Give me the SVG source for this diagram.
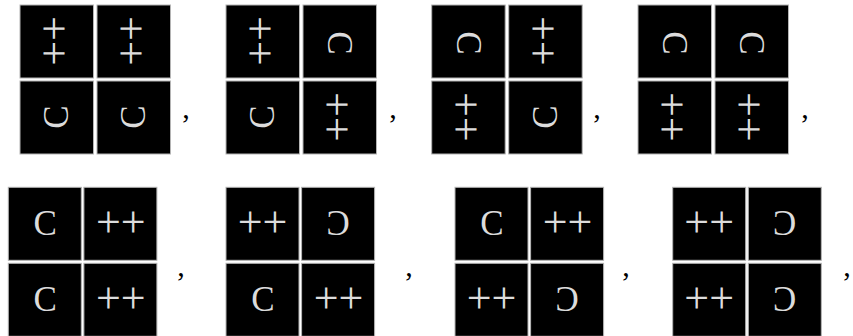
<svg xmlns="http://www.w3.org/2000/svg" width="853" height="336" viewBox="0 0 853 336">
<defs>
<style>
.sq{fill:#000;stroke:#b4b4b4;stroke-width:1}
.c{font-family:"Liberation Serif","DejaVu Serif",serif;font-size:35px;fill:#dcdcdc;text-anchor:middle}
.p{font-family:"Liberation Serif","DejaVu Serif",serif;font-size:44px;fill:#dcdcdc;text-anchor:middle}
.cm{font-family:"Liberation Serif","DejaVu Serif",serif;font-size:30px;fill:#000;text-anchor:middle}
</style>
</defs>
<rect width="853" height="336" fill="#fff"/>

<!-- Row 1 -->
<g id="r1g1" transform="translate(20,5)">
<rect class="sq" x="0" y="0" width="73.5" height="73"/>
<rect class="sq" x="77" y="0" width="73.5" height="73"/>
<rect class="sq" x="0" y="76" width="73.5" height="73"/>
<rect class="sq" x="77" y="76" width="73.5" height="73"/>
<text class="p" transform="translate(38,36) rotate(-90)" y="11">++</text>
<text class="p" transform="translate(115,36) rotate(-90)" y="11">++</text>
<text class="c" transform="translate(36.5,112) rotate(-90)" y="11.6">C</text>
<text class="c" transform="translate(113.5,112) rotate(-90)" y="11.6">C</text>
</g>
<g id="r1g2" transform="translate(226,5)">
<rect class="sq" x="0" y="0" width="73.5" height="73"/>
<rect class="sq" x="77" y="0" width="73.5" height="73"/>
<rect class="sq" x="0" y="76" width="73.5" height="73"/>
<rect class="sq" x="77" y="76" width="73.5" height="73"/>
<text class="p" transform="translate(38,36) rotate(-90)" y="11">++</text>
<text class="c" transform="translate(113.5,38) rotate(90)" y="11.6">C</text>
<text class="c" transform="translate(36.5,112) rotate(-90)" y="11.6">C</text>
<text class="p" transform="translate(115,112) rotate(-90)" y="11">++</text>
</g>
<g id="r1g3" transform="translate(431.7,5)">
<rect class="sq" x="0" y="0" width="73.5" height="73"/>
<rect class="sq" x="77" y="0" width="73.5" height="73"/>
<rect class="sq" x="0" y="76" width="73.5" height="73"/>
<rect class="sq" x="77" y="76" width="73.5" height="73"/>
<text class="c" transform="translate(36.5,38) rotate(90)" y="11.6">C</text>
<text class="p" transform="translate(115,36) rotate(-90)" y="11">++</text>
<text class="p" transform="translate(38,112) rotate(-90)" y="11">++</text>
<text class="c" transform="translate(113.5,112) rotate(-90)" y="11.6">C</text>
</g>
<g id="r1g4" transform="translate(638,5)">
<rect class="sq" x="0" y="0" width="73.5" height="73"/>
<rect class="sq" x="77" y="0" width="73.5" height="73"/>
<rect class="sq" x="0" y="76" width="73.5" height="73"/>
<rect class="sq" x="77" y="76" width="73.5" height="73"/>
<text class="c" transform="translate(36.5,38) rotate(90)" y="11.6">C</text>
<text class="c" transform="translate(113.5,38) rotate(90)" y="11.6">C</text>
<text class="p" transform="translate(38,112) rotate(-90)" y="11">++</text>
<text class="p" transform="translate(115,112) rotate(-90)" y="11">++</text>
</g>
<g id="r1commas">
<text class="cm" x="186" y="118">,</text>
<text class="cm" x="393" y="118">,</text>
<text class="cm" x="597" y="118">,</text>
<text class="cm" x="805" y="118">,</text>
</g>

<!-- Row 2 -->
<g id="r2g1" transform="translate(8.3,187.3)">
<rect class="sq" x="0" y="0" width="73" height="73"/>
<rect class="sq" x="75.6" y="0" width="73" height="73"/>
<rect class="sq" x="0" y="76" width="73" height="73"/>
<rect class="sq" x="75.6" y="76" width="73" height="73"/>
<text class="c" x="37" y="48">C</text>
<text class="p" x="112.5" y="50">++</text>
<text class="c" x="37" y="124">C</text>
<text class="p" x="112.5" y="126">++</text>
</g>
<g id="r2g2" transform="translate(226,187.3)">
<rect class="sq" x="0" y="0" width="73" height="73"/>
<rect class="sq" x="75.6" y="0" width="73" height="73"/>
<rect class="sq" x="0" y="76" width="73" height="73"/>
<rect class="sq" x="75.6" y="76" width="73" height="73"/>
<text class="p" x="36.5" y="50">++</text>
<text class="c" transform="translate(112,0) scale(-1,1)" x="0" y="48">C</text>
<text class="c" x="37" y="124">C</text>
<text class="p" x="112.5" y="126">++</text>
</g>
<g id="r2g3" transform="translate(455,187.3)">
<rect class="sq" x="0" y="0" width="73" height="73"/>
<rect class="sq" x="75.6" y="0" width="73" height="73"/>
<rect class="sq" x="0" y="76" width="73" height="73"/>
<rect class="sq" x="75.6" y="76" width="73" height="73"/>
<text class="c" x="37" y="48">C</text>
<text class="p" x="112.5" y="50">++</text>
<text class="p" x="36.5" y="126">++</text>
<text class="c" transform="translate(112,0) scale(-1,1)" x="0" y="124">C</text>
</g>
<g id="r2g4" transform="translate(672.7,187.3)">
<rect class="sq" x="0" y="0" width="73" height="73"/>
<rect class="sq" x="75.6" y="0" width="73" height="73"/>
<rect class="sq" x="0" y="76" width="73" height="73"/>
<rect class="sq" x="75.6" y="76" width="73" height="73"/>
<text class="p" x="36.5" y="50">++</text>
<text class="c" transform="translate(112,0) scale(-1,1)" x="0" y="48">C</text>
<text class="p" x="36.5" y="126">++</text>
<text class="c" transform="translate(112,0) scale(-1,1)" x="0" y="124">C</text>
</g>
<g id="r2commas">
<text class="cm" x="181" y="276">,</text>
<text class="cm" x="409" y="276">,</text>
<text class="cm" x="626" y="276">,</text>
<text class="cm" x="847" y="276">,</text>
</g>
</svg>
